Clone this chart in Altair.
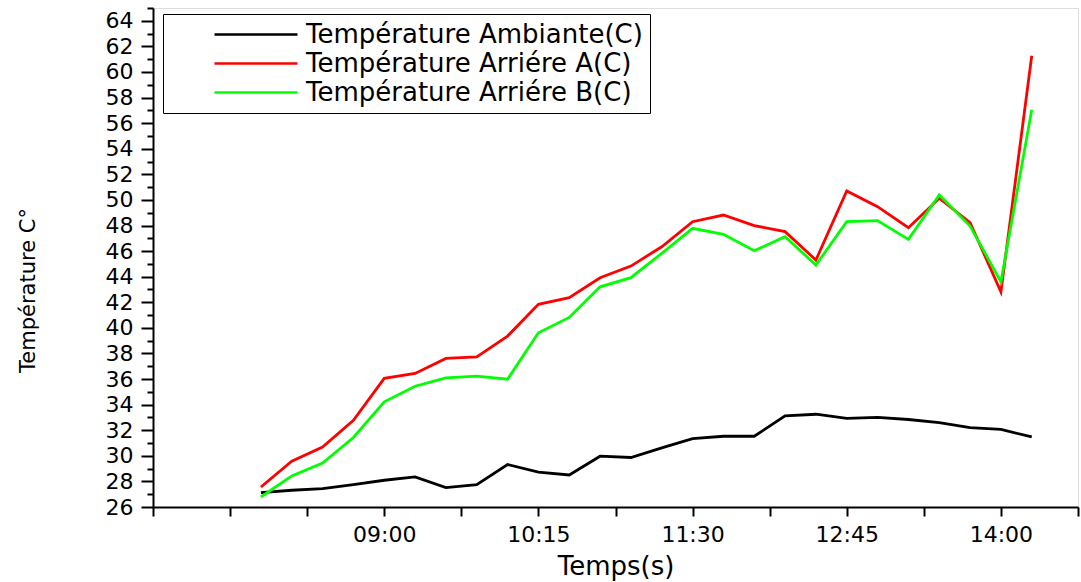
import altair as alt
import pandas as pd

# ---- data ----
times = ["08:00", "08:15", "08:30", "08:45", "09:00", "09:15", "09:30", "09:45",
         "10:00", "10:15", "10:30", "10:45", "11:00", "11:15", "11:30", "11:45",
         "12:00", "12:15", "12:30", "12:45", "13:00", "13:15", "13:30", "13:45",
         "14:00", "14:15"]
ambiante = [27.13, 27.31, 27.44, 27.75, 28.09, 28.35, 27.52, 27.75,
            29.32, 28.72, 28.50, 29.97, 29.87, 30.62, 31.35, 31.53,
            31.53, 33.12, 33.25, 32.92, 33.00, 32.84, 32.60, 32.21,
            32.06, 31.48]
arriere_a = [27.56, 29.58, 30.69, 32.78, 36.05, 36.44, 37.61, 37.74,
             39.36, 41.84, 42.36, 43.92, 44.83, 46.34, 48.30, 48.82,
             47.99, 47.52, 45.30, 50.70, 49.47, 47.83, 50.13, 48.22,
             42.82, 61.27]
arriere_b = [26.78, 28.43, 29.44, 31.43, 34.22, 35.44, 36.09, 36.23,
             35.99, 39.62, 40.82, 43.21, 43.92, 45.83, 47.78, 47.31,
             46.03, 47.13, 44.91, 48.30, 48.38, 46.92, 50.39, 47.96,
             43.60, 57.04]
series_names = ["Température Ambiante(C)", "Température Arriére A(C)",
                "Température Arriére B(C)"]
series_colors = ["#000000", "#ff0000", "#00ff00"]
x_tick_labels = ["09:00", "10:15", "11:30", "12:45", "14:00"]
x_axis_start = "07:07:30"
x_axis_end = "14:37:30"
x_tick_step_min = 37.5
y_major = list(range(26, 65, 2))
y_minor = list(range(27, 66, 2))
y_domain = [26, 65]


def to_min(s):
    parts = [float(p) for p in s.split(":")]
    while len(parts) < 3:
        parts.append(0.0)
    return parts[0] * 60 + parts[1] + parts[2] / 60


rows = []
for name, vals in zip(series_names, [ambiante, arriere_a, arriere_b]):
    for t, v in zip(times, vals):
        rows.append({"t": to_min(t), "temp": v, "serie": name})
df = pd.DataFrame(rows)

x_min, x_max = to_min(x_axis_start), to_min(x_axis_end)
n_ticks = int(round((x_max - x_min) / x_tick_step_min)) + 1
x_ticks = [x_min + x_tick_step_min * k for k in range(n_ticks)]
label_expr = "''"
for lab in reversed(x_tick_labels):
    label_expr = f"datum.value == {to_min(lab)} ? '{lab}' : ({label_expr})"

FONT = "DejaVu Sans"

x_enc = alt.X(
    "t:Q",
    scale=alt.Scale(domain=[x_min, x_max], nice=False, zero=False),
    axis=alt.Axis(
        values=x_ticks, labelExpr=label_expr, title="Temps(s)",
        grid=False, tickSize=9, tickWidth=2, tickColor="black",
        domainColor="black", domainWidth=2,
        labelFont=FONT, labelFontSize=22, labelColor="black", labelPadding=8,
        labelFlush=False, labelOverlap=False,
        titleFont=FONT, titleFontSize=26, titleFontWeight="normal",
        titleColor="black", titleY=59, titleBaseline="middle",
    ),
)

y_scale = alt.Scale(domain=y_domain, nice=False, zero=False)

minor = alt.Chart(df).mark_line(opacity=0).encode(
    x=x_enc,
    y=alt.Y("temp:Q", scale=y_scale,
            axis=alt.Axis(values=y_minor, labels=False, domain=False, grid=False,
                          tickSize=6, tickWidth=2, tickColor="black",
                          orient="left", title=None)),
    detail="serie:N",
)

lines = alt.Chart(df).mark_line(strokeWidth=2.8).encode(
    x=x_enc,
    y=alt.Y("temp:Q", scale=y_scale,
            axis=alt.Axis(values=y_major, orient="left", grid=False,
                          tickSize=12, tickWidth=2, tickColor="black",
                          domainColor="black", domainWidth=2,
                          labelFont=FONT, labelFontSize=22, labelColor="black",
                          labelPadding=8,
                          title="Température C°", titleFont=FONT,
                          titleFontSize=21, titleFontWeight="normal",
                          titleColor="black", titleX=-125, titleY=282,
                          titleBaseline="middle", titleAlign="center")),
    color=alt.Color(
        "serie:N",
        scale=alt.Scale(domain=series_names, range=series_colors),
        legend=alt.Legend(
            title=None, orient="none", legendX=10, legendY=6,
            symbolType="stroke", symbolSize=6889, symbolStrokeWidth=2.5,
            symbolOffset=43, labelOffset=7, clipHeight=27, rowPadding=2,
            labelFont=FONT, labelFontSize=26, labelColor="black", labelLimit=800,
            padding=7, strokeColor="black", fillColor="white",
        ),
    ),
)

chart = alt.layer(minor, lines).resolve_axis(y="independent").properties(
    width=925, height=499,
    autosize=alt.AutoSizeParams(type="none"),
    padding={"left": 153, "top": 8, "right": 3, "bottom": 75},
).configure_view(stroke=None).configure(background="white")

chart.save("out.html", embed_options={"renderer": "svg", "actions": False})
